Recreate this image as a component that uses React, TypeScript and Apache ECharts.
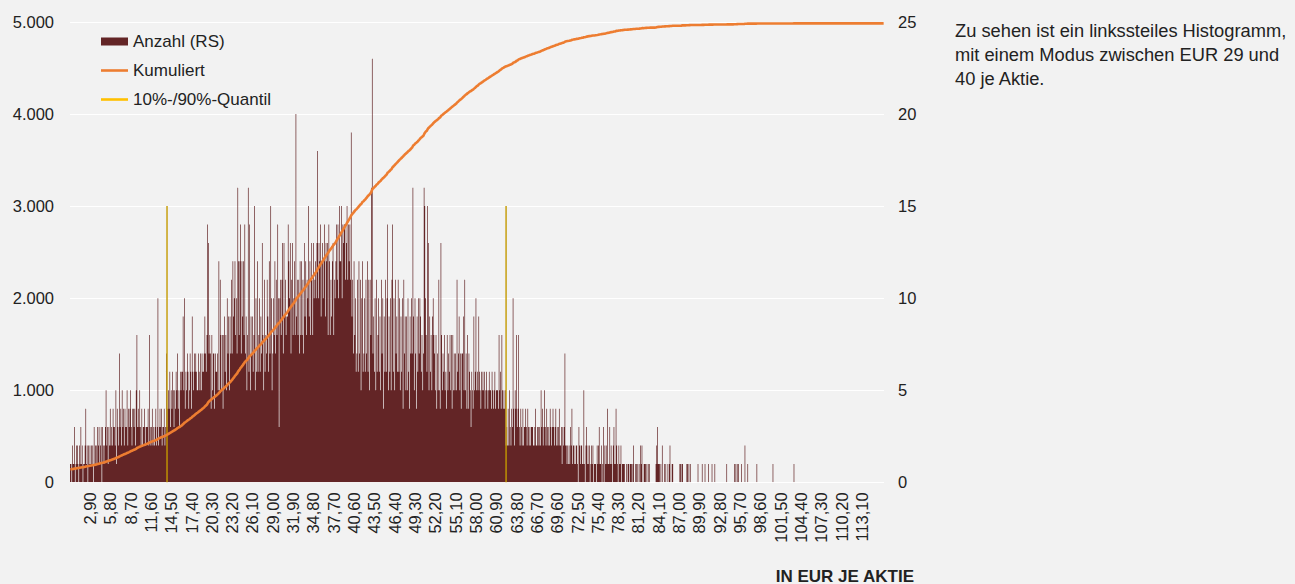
import React, { useEffect, useRef } from "react";
import * as echarts from "echarts";

// Histogram counts (right scale), one value per 0,10 EUR bin, starting at 0,10
const counts00to10 = [
  1,1,0,2,1,1,3,0,1,2,
  2,1,0,2,1,3,1,2,0,1,
  1,2,4,1,2,0,2,1,2,1,
  2,1,2,0,3,1,2,2,1,3,
  2,3,1,2,3,0,3,2,1,2,
  3,5,2,3,1,3,2,4,2,3,
  2,4,3,3,2,5,1,4,3,2,
  7,3,4,2,5,3,4,2,4,3,
  3,5,2,4,3,4,5,3,2,4,
  4,3,4,2,5,8,3,4,3,5,
];
const counts10to20 = [
  3,2,4,2,3,3,4,2,3,3,
  3,4,2,8,3,2,3,4,2,3,
  2,3,4,2,3,10,2,3,4,3,
  4,2,3,3,4,2,3,7,3,4,
  5,4,6,3,5,4,6,5,3,5,
  4,6,5,7,4,5,3,6,5,6,
  6,9,5,10,4,6,5,7,6,4,
  5,7,6,4,9,6,5,7,6,7,
  6,5,5,7,6,5,7,5,7,6,
  6,7,9,7,6,8,14,13,7,8,
];
const counts20to30 = [
  7,4,8,5,7,7,4,7,6,6,
  7,5,12,5,11,8,5,8,4,8,
  9,6,8,5,10,7,9,5,9,7,
  11,7,12,9,10,12,8,10,7,16,
  12,8,12,14,7,12,9,12,8,14,
  7,9,5,8,16,6,14,5,9,7,
  9,6,8,15,5,10,6,12,6,8,
  10,6,9,7,13,8,5,11,6,8,
  7,11,9,6,12,7,15,10,5,7,
  10,8,12,7,11,8,14,10,3,10,
];
const counts30to40 = [
  11,8,11,13,7,13,9,11,8,9,
  9,14,12,10,13,7,11,13,8,10,
  12,8,20,9,11,8,11,7,12,8,
  12,8,11,7,13,9,12,8,11,10,
  15,9,12,8,13,11,8,13,10,11,
  12,10,13,18,10,13,12,14,9,12,
  13,10,12,14,9,13,12,13,8,14,
  12,8,11,9,12,13,8,11,10,12,
  14,11,14,10,15,12,12,15,10,14,
  13,14,14,11,13,15,11,14,12,14,
];
const counts40to50 = [
  11,19,9,11,7,12,8,10,6,7,
  11,6,12,7,11,5,10,12,6,7,
  10,6,11,7,12,6,11,5,11,8,
  16,23,7,9,6,10,5,11,6,8,
  10,6,9,5,11,7,10,4,9,6,
  11,6,10,14,5,9,6,10,5,11,
  14,6,10,5,11,7,9,6,11,6,
  10,5,9,6,10,4,11,7,9,5,
  9,5,10,6,4,9,7,10,7,16,
  9,5,10,7,4,9,6,10,7,10,
];
const counts50to60 = [
  9,6,8,5,7,16,15,10,8,6,
  15,13,5,9,6,8,5,9,10,8,
  7,5,8,4,7,5,11,5,4,13,
  8,5,7,6,8,5,6,4,8,5,
  7,6,8,5,8,4,8,5,7,5,
  7,5,11,6,7,9,5,7,4,7,
  7,9,5,11,5,7,4,8,4,7,
  6,5,3,6,5,4,9,5,6,10,
  5,6,5,9,6,5,4,6,5,6,
  5,6,4,5,6,5,4,5,6,5,
];
const counts60to70 = [
  5,4,6,5,4,5,6,4,5,5,
  5,4,8,5,6,4,8,5,4,5,
  4,5,2,3,2,4,2,5,3,2,
  4,3,10,4,2,5,4,8,3,4,
  8,3,2,4,3,2,4,2,3,3,
  4,3,2,4,3,2,3,2,3,3,
  3,2,2,3,4,2,2,3,3,2,
  3,2,5,3,4,2,3,5,3,2,
  4,3,2,3,2,4,3,2,3,4,
  3,2,3,4,2,3,2,3,4,2,
];
const counts70to80 = [
  2,3,1,3,2,3,7,2,2,1,
  2,1,2,1,3,2,4,1,2,2,
  1,1,2,2,1,0,3,2,1,2,
  2,1,1,5,1,0,2,3,1,2,
  1,2,0,1,2,1,2,0,1,1,
  1,0,2,1,2,3,1,1,2,0,
  1,3,0,2,1,2,1,4,1,1,
  3,1,2,1,0,2,3,1,1,4,
  2,1,0,2,1,1,2,0,1,1,
  1,1,0,0,1,0,1,1,0,1,
];
const counts80to90 = [
  1,1,0,1,2,0,0,1,1,0,
  1,0,1,0,2,1,2,0,0,1,
  1,1,0,1,0,1,0,1,0,0,
  0,0,0,0,0,0,1,2,3,1,
  1,1,0,1,0,2,0,0,1,0,
  1,0,0,1,0,1,2,0,0,1,
  1,0,0,0,0,0,0,0,0,0,
  1,1,0,1,1,0,0,0,0,0,
  1,1,0,1,0,1,0,0,0,0,
  0,0,0,0,0,0,1,0,0,0,
];
const counts90to100 = [
  0,0,1,0,0,0,1,0,0,0,
  0,1,0,0,0,0,1,0,0,0,
  1,0,0,0,0,0,0,0,0,0,
  0,0,0,0,0,0,0,1,0,0,
  0,0,0,0,0,0,0,0,1,0,
  1,0,1,0,1,0,0,0,1,0,
  0,0,0,2,0,0,0,1,0,0,
  0,0,0,0,0,0,0,0,0,0,
  1,0,0,0,0,0,0,0,0,0,
  0,0,0,0,0,0,0,0,0,0,
];
const counts100to116 = [
  0,0,0,1,0,0,0,0,0,0,
  0,0,0,0,0,0,0,0,0,0,
  0,0,0,0,0,0,0,0,0,0,
  0,0,0,1,0,0,0,0,0,0,
  0,0,0,0,0,0,0,0,0,0,
  0,0,0,0,0,0,0,0,0,0,
  0,0,0,0,0,0,0,0,0,0,
  0,0,0,0,0,0,0,0,0,0,
  0,0,0,0,0,0,0,0,0,0,
  0,0,0,0,0,0,0,0,0,0,
  0,0,0,0,0,0,0,0,0,0,
  0,0,0,0,0,0,0,0,0,0,
  0,0,0,0,0,0,0,0,0,0,
  0,0,0,0,0,0,0,0,0,0,
  0,0,0,0,0,0,0,0,0,0,
  0,0,0,0,0,0,0,0,0,0,
  0,0,
];

// count already accumulated before the first plotted bin (left scale)
const cumulativeBase = 140;
// 10% / 90% quantiles in EUR, marker height on right scale
const quantileEUR = [13.9, 62.3];
const quantileHeight = 15;

const binStartEUR = 0.1;
const binStepEUR = 0.1;
const labelEvery = 29;
const lastLabelEUR = 113.1;

const leftAxis = { min: 0, max: 5000, interval: 1000 };
const rightAxis = { min: 0, max: 25, interval: 5 };

const noteLines = [
  "Zu sehen ist ein linkssteiles Histogramm,",
  "mit einem Modus zwischen EUR 29 und",
  "40 je Aktie.",
];
const axisTitle = "IN EUR JE AKTIE";

const FONT = "'Liberation Sans', Arial, sans-serif";
const TEXT = "#222222";
const BAR = "#632526";
const ORANGE = "#ED7D31";
const GOLD = "#FFC000";
const LINE_ICON = "path://M0,0H27V2.6H0Z";

export default function App() {
  const ref = useRef<HTMLDivElement>(null);

  useEffect(() => {
    const counts = [
      ...counts00to10, ...counts10to20, ...counts20to30, ...counts30to40,
      ...counts40to50, ...counts50to60, ...counts60to70, ...counts70to80,
      ...counts80to90, ...counts90to100, ...counts100to116,
    ];
    const categories = counts.map((_, i) =>
      (binStartEUR + i * binStepEUR).toFixed(2).replace(".", ",")
    );
    const cumulative: number[] = [];
    let run = cumulativeBase;
    counts.forEach((c) => {
      run += c;
      cumulative.push(run);
    });
    const lastLabelIndex = Math.round((lastLabelEUR - binStartEUR) / binStepEUR);
    const qIdx = quantileEUR.map((q) => Math.round((q - binStartEUR) / binStepEUR));

    const chart = echarts.init(ref.current!, null, { renderer: "svg" });
    chart.setOption({
      animation: false,
      backgroundColor: "#f2f2f2",
      textStyle: { fontFamily: FONT },
      grid: { left: 70, right: 411, top: 22, bottom: 101.7, containLabel: false },
      legend: {
        orient: "vertical",
        left: 101,
        top: 33,
        padding: 0,
        itemWidth: 27,
        itemHeight: 8,
        itemGap: 12,
        selectedMode: false,
        textStyle: { fontSize: 17, color: TEXT, fontFamily: FONT },
        data: [
          { name: "Anzahl (RS)", icon: "rect" },
          { name: "Kumuliert", icon: LINE_ICON },
          { name: "10%-/90%-Quantil", icon: LINE_ICON, itemStyle: { color: GOLD } },
        ],
      },
      xAxis: {
        type: "category",
        data: categories,
        boundaryGap: true,
        axisLine: { show: false },
        axisTick: { show: false },
        axisLabel: {
          rotate: 90,
          margin: 10,
          fontSize: 16.5,
          color: TEXT,
          fontFamily: FONT,
          interval: (index: number) =>
            (index + 1) % labelEvery === 0 && index <= lastLabelIndex,
        },
        splitLine: { show: false },
      },
      yAxis: [
        {
          type: "value",
          ...leftAxis,
          position: "left",
          axisLine: { show: false },
          axisTick: { show: false },
          axisLabel: {
            margin: 16,
            fontSize: 16.5,
            color: TEXT,
            fontFamily: FONT,
            formatter: (v: number) => v.toLocaleString("de-DE"),
          },
          splitLine: { show: true, lineStyle: { color: "#ffffff", width: 1 } },
        },
        {
          type: "value",
          ...rightAxis,
          position: "right",
          axisLine: { show: false },
          axisTick: { show: false },
          axisLabel: { margin: 14, fontSize: 16.5, color: TEXT, fontFamily: FONT },
          splitLine: { show: false },
        },
      ],
      series: [
        {
          name: "Anzahl (RS)",
          type: "bar",
          yAxisIndex: 1,
          data: counts,
          barCategoryGap: "0%",
          barGap: "0%",
          large: true,
          largeThreshold: 100,
          itemStyle: { color: BAR },
          emphasis: { disabled: true },
        },
        {
          name: "Kumuliert",
          type: "line",
          yAxisIndex: 0,
          data: cumulative,
          symbol: "none",
          smooth: false,
          lineStyle: { color: ORANGE, width: 2.6 },
          itemStyle: { color: ORANGE },
          z: 5,
        },
        ...qIdx.map((idx) => ({
          name: "10%-/90%-Quantil",
          type: "line",
          yAxisIndex: 1,
          data: [
            [idx, 0],
            [idx, quantileHeight],
          ],
          symbol: "none",
          lineStyle: { color: "#C49A00", width: 1.4 },
          itemStyle: { color: GOLD },
          z: 4,
        })),
      ],
      graphic: [
        ...noteLines.map((t, i) => ({
          type: "text",
          x: 955,
          y: 30 + i * 24,
          style: {
            text: t,
            font: `18.3px ${FONT}`,
            fill: TEXT,
            textVerticalAlign: "middle",
            verticalAlign: "middle",
          },
        })),
        {
          type: "text",
          x: 914,
          y: 576,
          style: {
            text: axisTitle,
            font: `bold 17px ${FONT}`,
            fill: TEXT,
            align: "right",
            textAlign: "right",
            verticalAlign: "middle",
            textVerticalAlign: "middle",
          },
        },
      ],
    });
    return () => chart.dispose();
  }, []);

  return (
    <div
      ref={ref}
      style={{ position: "absolute", left: 0, top: 0, width: 1295, height: 584 }}
    />
  );
}
